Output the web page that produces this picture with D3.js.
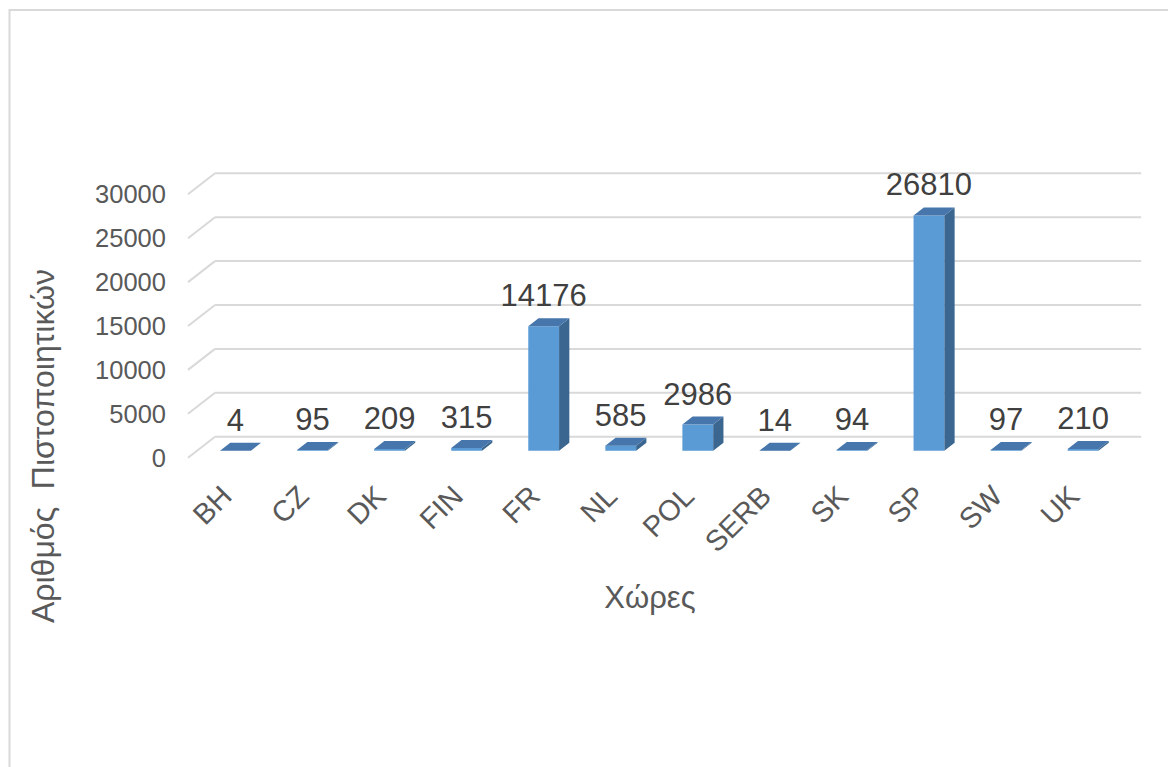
<!DOCTYPE html>
<html>
<head>
<meta charset="utf-8">
<script src="https://cdn.jsdelivr.net/npm/d3@7"></script>
<style>
  html, body { margin: 0; padding: 0; background: #ffffff; }
  svg { display: block; }
  text { font-family: "Liberation Sans", Arial, sans-serif; }
</style>
</head>
<body>
<svg id="chart" width="1168" height="767"></svg>
<script>
// Certificates issued per country
const categories = ["BH", "CZ", "DK", "FIN", "FR", "NL", "POL", "SERB", "SK", "SP", "SW", "UK"];
const values = [4, 95, 209, 315, 14176, 585, 2986, 14, 94, 26810, 97, 210];
const yTicks = [0, 5000, 10000, 15000, 20000, 25000, 30000];
const xTitle = "Χώρες";
const yTitle = "Αριθμός  Πιστοποιητικών";

const svg = d3.select("#chart");

// Chart frame
svg.append("rect")
  .attr("x", 9.5).attr("y", 10).attr("width", 1200).attr("height", 800)
  .attr("fill", "#ffffff").attr("stroke", "#d9d9d9").attr("stroke-width", 2);

// 3D plot geometry: front plane, depth vector to back wall
const front = { left: 188, right: 1112.7, bottom: 457.7, top: 194.3 };
const depth = { dx: 27, dy: -21 };
const barDepth = { t0: 0.33, t1: 0.71 };   // column sits in the middle of the floor depth

const x = d3.scaleBand()
  .domain(categories)
  .range([front.left, front.right])
  .paddingInner(0.6)
  .paddingOuter(0.3);

const y = d3.scaleLinear()
  .domain([0, 30000])
  .range([front.bottom, front.top]);

// Gridlines: short diagonal on the side wall plus a line across the back wall
const grid = svg.append("g");
yTicks.forEach(t => {
  const yf = y(t);
  grid.append("line")
    .attr("x1", front.left).attr("y1", yf)
    .attr("x2", front.left + depth.dx).attr("y2", yf + depth.dy)
    .attr("stroke", "#d9d9d9").attr("stroke-width", 2);
  grid.append("line")
    .attr("x1", front.left + depth.dx).attr("y1", yf + depth.dy)
    .attr("x2", front.right + depth.dx + 1.5).attr("y2", yf + depth.dy)
    .attr("stroke", "#d9d9d9").attr("stroke-width", 2);
});

// Y tick labels
svg.append("g").selectAll("text")
  .data(yTicks)
  .join("text")
  .attr("x", 166)
  .attr("y", d => y(d))
  .attr("dy", "0.36em")
  .attr("text-anchor", "end")
  .attr("font-size", 25.5)
  .attr("fill", "#595959")
  .text(d => d);

// Columns
const fx = depth.dx * barDepth.t0, fy = depth.dy * barDepth.t0;
const bx = depth.dx * barDepth.t1, by = depth.dy * barDepth.t1;
const bars = svg.append("g");
const data = categories.map((c, i) => ({ c, v: values[i] }));

data.forEach(d => {
  const x0 = x(d.c), x1 = x(d.c) + x.bandwidth();
  const y0 = y(0), yv = y(d.v);
  const g = bars.append("g");
  // front face
  g.append("polygon")
    .attr("points", [[x0 + fx, y0 + fy], [x1 + fx, y0 + fy], [x1 + fx, yv + fy], [x0 + fx, yv + fy]].join(" "))
    .attr("fill", "#5b9bd5");
  // side face
  g.append("polygon")
    .attr("points", [[x1 + fx, y0 + fy], [x1 + bx, y0 + by], [x1 + bx, yv + by], [x1 + fx, yv + fy]].join(" "))
    .attr("fill", "#3a6690");
  // top face
  g.append("polygon")
    .attr("points", [[x0 + fx, yv + fy], [x1 + fx, yv + fy], [x1 + bx, yv + by], [x0 + bx, yv + by]].join(" "))
    .attr("fill", "#4676ab");
});

// Data labels
svg.append("g").selectAll("text")
  .data(data)
  .join("text")
  .attr("x", d => x(d.c) + x.bandwidth() / 2 + fx)
  .attr("y", d => y(d.v) + by - 12)
  .attr("text-anchor", "middle")
  .attr("font-size", 31)
  .attr("fill", "#404040")
  .text(d => d.v);

// Category labels, rotated
svg.append("g").selectAll("text")
  .data(categories)
  .join("text")
  .attr("text-anchor", "end")
  .attr("font-size", 29)
  .attr("fill", "#595959")
  .attr("transform", d => `translate(${x(d) + x.bandwidth() / 2 + 7},498) rotate(-45)`)
  .text(d => d);

// Axis titles
svg.append("text")
  .attr("x", 650).attr("y", 608)
  .attr("text-anchor", "middle")
  .attr("font-size", 31)
  .attr("fill", "#595959")
  .text(xTitle);

svg.append("text")
  .attr("transform", "translate(54,446) rotate(-90)")
  .attr("text-anchor", "middle")
  .attr("font-size", 32)
  .attr("fill", "#595959")
  .style("white-space", "pre")
  .text(yTitle);
</script>
</body>
</html>
